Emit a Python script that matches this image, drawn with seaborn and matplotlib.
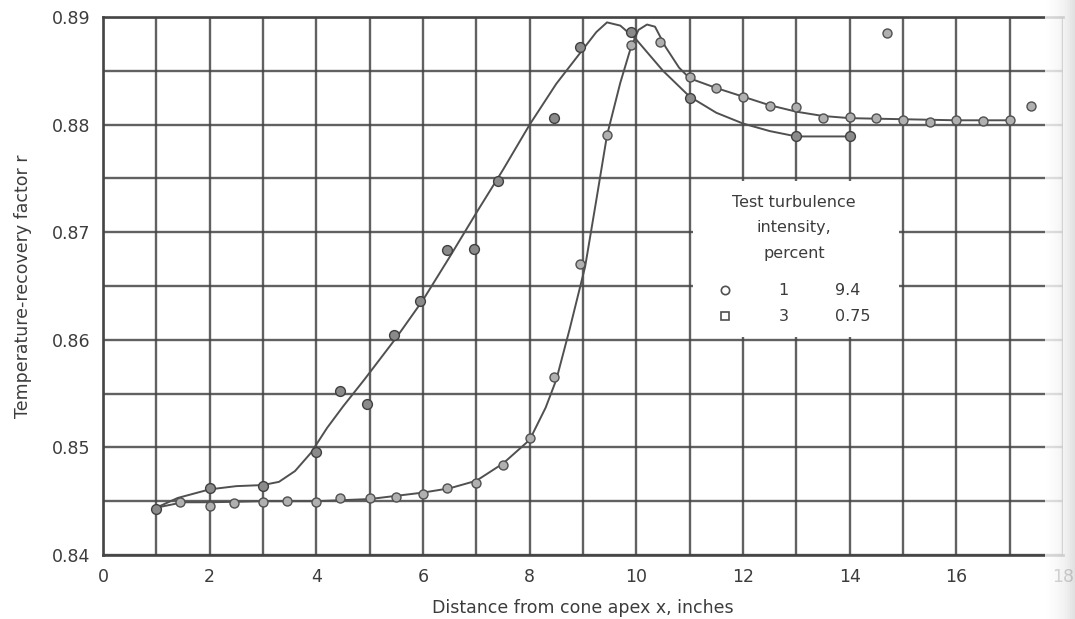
import numpy as np
import pandas as pd
import matplotlib
matplotlib.use("Agg")
import matplotlib.pyplot as plt
from matplotlib.patches import Rectangle
from matplotlib.lines import Line2D
import seaborn as sns

# Measured recovery factors, test 1 (turbulence intensity 9.4 percent)
test1_x = [1.0, 2.0, 3.0, 4.0, 4.45, 4.95, 5.45, 5.95, 6.45, 6.95, 7.4, 8.45, 8.95, 9.9, 11.0, 13.0, 14.0]
test1_r = [0.8443, 0.8462, 0.8464, 0.8496, 0.8552, 0.8540, 0.8604, 0.8636, 0.8683, 0.8684,
           0.8748, 0.8806, 0.8872, 0.8886, 0.8825, 0.8789, 0.8789]

# Measured recovery factors, test 3 (turbulence intensity 0.75 percent)
test3_x = [1.45, 2.0, 2.45, 3.0, 3.45, 4.0, 4.45, 5.0, 5.5, 6.0, 6.45, 7.0, 7.5, 8.0, 8.45,
           8.95, 9.45, 9.9, 10.45, 11.0, 11.5, 12.0, 12.5, 13.0, 13.5, 14.0, 14.5, 15.0,
           15.5, 16.0, 16.5, 17.0, 14.7, 17.4]
test3_r = [0.8449, 0.8446, 0.8448, 0.8449, 0.8450, 0.8449, 0.8453, 0.8453, 0.8454, 0.8457,
           0.8462, 0.8467, 0.8484, 0.8509, 0.8565, 0.8670, 0.8790, 0.8874, 0.8877, 0.8844,
           0.8834, 0.8826, 0.8817, 0.8816, 0.8806, 0.8807, 0.8806, 0.8804, 0.8802, 0.8804,
           0.8803, 0.8804, 0.8885, 0.8817]

# Faired curves through each test
fair1_x = [1.0, 1.4, 2.0, 2.5, 3.0, 3.3, 3.6, 3.9, 4.2, 4.5, 4.9, 5.5, 6.0, 6.5, 7.0, 7.5,
           8.0, 8.5, 9.0, 9.25, 9.45, 9.7, 10.0, 10.5, 11.0, 11.5, 12.0, 12.5, 13.0, 14.0]
fair1_r = [0.8444, 0.8453, 0.8461, 0.8464, 0.8465, 0.8468, 0.8478, 0.8495, 0.8518, 0.8538,
           0.8563, 0.8602, 0.8637, 0.8677, 0.8718, 0.8758, 0.8800, 0.8838, 0.8870, 0.8886,
           0.8895, 0.8892, 0.8879, 0.8850, 0.8826, 0.8811, 0.8801, 0.8794, 0.8789, 0.8789]

fair3_x = [1.0, 1.5, 2.0, 3.0, 4.0, 5.0, 6.0, 6.5, 7.0, 7.5, 8.0, 8.3, 8.5, 8.75, 9.04, 9.25,
           9.45, 9.7, 9.9, 10.04, 10.2, 10.35, 10.55, 10.8, 11.0, 11.5, 12.0, 12.5, 13.0,
           13.5, 14.0, 15.0, 16.0, 17.0]
fair3_r = [0.8444, 0.8449, 0.8449, 0.8450, 0.8450, 0.8452, 0.8458, 0.8462, 0.8469, 0.8485,
           0.8507, 0.8537, 0.8563, 0.8610, 0.8668, 0.8730, 0.8790, 0.8839, 0.8872, 0.8888,
           0.8893, 0.8891, 0.8872, 0.8853, 0.8843, 0.8834, 0.8826, 0.8818, 0.8812, 0.8808,
           0.8806, 0.8805, 0.8804, 0.8804]

x_ticks = [0, 2, 4, 6, 8, 10, 12, 14, 16, 18]
y_ticks = [0.84, 0.85, 0.86, 0.87, 0.88, 0.89]

legend_tests = ["1", "3"]
legend_intensity = ["9.4", "0.75"]

sns.set_style("white")
plt.rcParams["font.family"] = ["DejaVu Sans"]

INK = "#3c3c3c"
GRID = "#454545"

fig = plt.figure(figsize=(10.75, 6.19), dpi=100)
ax = fig.add_axes([103 / 1075, 64 / 619, 960 / 1075, 538 / 619])

curve1 = pd.DataFrame({"x": fair1_x, "r": fair1_r})
curve3 = pd.DataFrame({"x": fair3_x, "r": fair3_r})
pts1 = pd.DataFrame({"x": test1_x, "r": test1_r})
pts3 = pd.DataFrame({"x": test3_x, "r": test3_r})

sns.lineplot(data=curve1, x="x", y="r", sort=False, color="#505050", linewidth=1.4, ax=ax, zorder=3)
sns.lineplot(data=curve3, x="x", y="r", sort=False, color="#505050", linewidth=1.4, ax=ax, zorder=3)
sns.scatterplot(data=pts1, x="x", y="r", marker="o", s=50, color="#8a8a8a",
                edgecolor="#404040", linewidth=1.0, ax=ax, zorder=4)
sns.scatterplot(data=pts3, x="x", y="r", marker="o", s=42, color="#b0b0b0",
                edgecolor="#505050", linewidth=1.0, ax=ax, zorder=4)

ax.set_xlim(0, 18)
ax.set_ylim(0.84, 0.89)
ax.set_xticks(x_ticks)
ax.set_xticks(np.arange(0, 19, 1), minor=True)
ax.set_yticks(y_ticks)
ax.set_yticks(np.arange(0.84, 0.8901, 0.005), minor=True)
ax.set_yticklabels([f"{v:.2f}" for v in y_ticks])
ax.set_xticklabels([str(v) for v in x_ticks])
ax.tick_params(which="both", length=0)
ax.tick_params(axis="x", pad=9, labelsize=12.5, labelcolor=INK)
ax.tick_params(axis="y", pad=9, labelsize=12.5, labelcolor=INK)
ax.set_axisbelow(True)
ax.grid(which="both", color=GRID, linewidth=1.7, alpha=0.85)
for side in ["left", "bottom", "top"]:
    ax.spines[side].set_color(GRID)
    ax.spines[side].set_linewidth(1.9)
ax.spines["right"].set_visible(False)

ax.set_xlabel("Distance from cone apex x, inches", fontsize=12.5, color=INK, labelpad=10)
ax.set_ylabel("Temperature-recovery factor r", fontsize=12.5, color=INK, labelpad=14)

# Key panel cleared out of the grid
ax.add_patch(Rectangle((11.07, 0.86025), 3.86, 0.0145, facecolor="white",
                       edgecolor="none", zorder=1.2))
hdr = dict(ha="center", va="center", fontsize=11.5, color=INK, zorder=5)
ax.text(12.96, 0.8728, "Test turbulence", **hdr)
ax.text(12.96, 0.8704, "intensity,", **hdr)
ax.text(12.96, 0.8680, "percent", **hdr)
row_y = [0.8646, 0.8622]
row_marker = ["o", "s"]
for ty, mk, tst, inten in zip(row_y, row_marker, legend_tests, legend_intensity):
    ax.add_line(Line2D([11.67], [ty], marker=mk, markersize=6, markerfacecolor="white",
                       markeredgecolor="#505050", markeredgewidth=1.2, linestyle="none", zorder=5))
    ax.text(12.76, ty, tst, ha="center", va="center", fontsize=11.5, color=INK, zorder=5)
    ax.text(13.72, ty, inten, ha="left", va="center", fontsize=11.5, color=INK, zorder=5)

# Soft shading along the right-hand margin
shade = fig.add_axes([1045 / 1075, 0, 30 / 1075, 1])
grad = np.linspace(0, 1, 64)[None, :] ** 1.5
shade.imshow(grad, aspect="auto", cmap="Greys", vmin=0, vmax=4.0, alpha=0.8,
             extent=[0, 1, 0, 1])
shade.set_axis_off()

fig.savefig("out.png", dpi=100)
